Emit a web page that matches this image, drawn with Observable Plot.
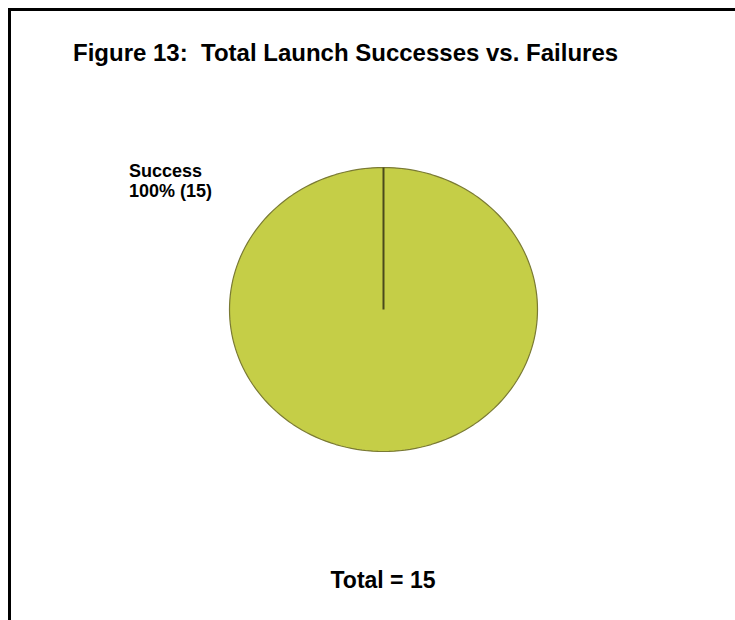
<!DOCTYPE html>
<html>
<head>
<meta charset="utf-8">
<script src="https://cdn.jsdelivr.net/npm/d3@7"></script>
<script src="https://cdn.jsdelivr.net/npm/@observablehq/plot@0.6"></script>
<style>
  html, body { margin: 0; padding: 0; background: #fff; overflow: hidden; }
  body { width: 735px; height: 620px; position: relative; font-family: "Liberation Sans", Arial, sans-serif; }
  #frame { position: absolute; left: 8px; top: 8px; width: 740px; height: 620px;
           border-top: 3px solid #000; border-left: 3px solid #000; }
  #chart { position: absolute; left: 0; top: 0; }
  .txt { position: absolute; font-weight: bold; color: #000; white-space: pre; }
  #title { left: 73px; top: 39px; font-size: 24px; line-height: 28px; }
  #label { left: 129px; top: 161px; font-size: 18px; line-height: 20px; }
  #total { left: 0; width: 766px; text-align: center; top: 566px; font-size: 23px; line-height: 28px; }
</style>
</head>
<body>
<div id="frame"></div>
<div id="chart"></div>
<div id="title" class="txt"></div>
<div id="label" class="txt"></div>
<div id="total" class="txt"></div>
<script>
// ---- data ----
const categories = ["Success", "Failure"];
const counts = [15, 0];
const titleText = "Figure 13:  Total Launch Successes vs. Failures";

// ---- derived ----
const total = d3.sum(counts);
const rows = categories.map((c, i) => ({category: c, value: counts[i]}));
const arcs = d3.pie().sort(null).value(d => d.value)(rows).filter(a => a.data.value > 0);

// slice outlines as data-space polygons (unit circle, clockwise from top)
const poly = [];
arcs.forEach(a => {
  const full = (a.endAngle - a.startAngle) >= 2 * Math.PI - 1e-9;
  if (!full) poly.push({k: a.data.category, x: 0, y: 0});
  const n = 180;
  for (let i = 0; i <= n; i++) {
    const t = a.startAngle + (a.endAngle - a.startAngle) * i / n;
    poly.push({k: a.data.category, x: Math.sin(t), y: Math.cos(t)});
  }
});
const edges = arcs.map(a => ({x1: 0, y1: 0, x2: Math.sin(a.startAngle), y2: Math.cos(a.startAngle)}));

const chart = Plot.plot({
  width: 735,
  height: 620,
  margin: 0,
  x: {domain: [-1, 1], range: [229, 537], axis: null},
  y: {domain: [-1, 1], range: [451, 167], axis: null},
  marks: [
    Plot.line(poly, {x: "x", y: "y", z: "k", curve: "linear-closed",
      fill: "#c5ce47", stroke: "#7a7a34", strokeWidth: 1.2}),
    Plot.link(edges, {x1: "x1", y1: "y1", x2: "x2", y2: "y2",
      stroke: "#4a4a1c", strokeWidth: 2})
  ]
});
document.getElementById("chart").appendChild(chart);

document.getElementById("title").textContent = titleText;
const s = arcs[0];
document.getElementById("label").textContent =
  s.data.category + "\n" + Math.round(100 * s.data.value / total) + "% (" + s.data.value + ")";
document.getElementById("total").textContent = "Total = " + total;
</script>
</body>
</html>
